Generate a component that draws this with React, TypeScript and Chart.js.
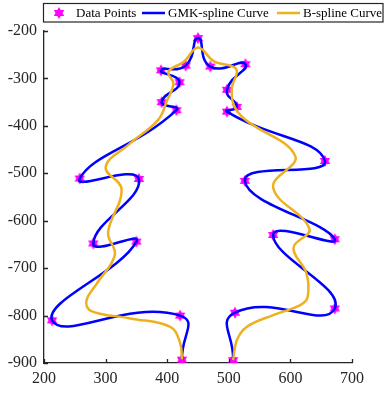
import React, { useEffect, useRef } from 'react';
import { Chart, registerables } from 'chart.js';

Chart.register(...registerables);

// Data points (control points), ordered from left trunk over the top to right trunk
const pointX = [424, 421, 213, 350, 280, 354, 258, 415, 391, 420, 390, 430, 450, 470, 527, 497, 513, 497, 656, 526, 672, 572, 672, 510, 507];
const pointY = [-893, -800, -810, -644, -648, -512, -511, -367, -350, -308, -283, -273, -215, -275, -270, -324, -360, -370, -474, -516, -639, -630, -785, -794, -894];

// B-spline curve samples
const bsplineX = [424, 421, 405, 340, 276, 269, 286, 315, 304, 326, 300, 338, 385, 400, 410, 402, 427, 450, 476, 512, 505, 508, 526, 608, 572, 631, 605, 626, 628, 616, 572, 529, 513, 507];
const bsplineY = [-893, -858, -824, -806, -790, -768, -732, -672, -625, -534, -487, -439, -388, -346, -311, -286, -265, -235, -264, -280, -321, -356, -386, -464, -530, -617, -657, -711, -761, -778, -799, -824, -852, -894];

const xTickValues = [200, 300, 400, 500, 600, 700];
const yTickValues = [-900, -800, -700, -600, -500, -400, -300, -200];

const legendLabels = ['Data Points', 'GMK-spline Curve', 'B-spline Curve'];

const FONT = "'Liberation Serif', 'Times New Roman', Times, serif";
const AXIS = '#262626';
const MAGENTA = '#FF00FF';
const BLUE = '#0000FF';
const ORANGE = '#EDB120';

function makeHexagram(r: number): HTMLCanvasElement {
  const c = document.createElement('canvas');
  const s = Math.ceil(r * 2 + 2);
  c.width = s;
  c.height = s;
  const ctx = c.getContext('2d')!;
  const cx = s / 2, cy = s / 2;
  ctx.fillStyle = MAGENTA;
  for (let t = 0; t < 2; t++) {
    ctx.beginPath();
    for (let k = 0; k < 3; k++) {
      const a = -Math.PI / 2 + t * Math.PI + (k * 2 * Math.PI) / 3;
      const px = cx + r * Math.cos(a);
      const py = cy + r * Math.sin(a);
      if (k === 0) ctx.moveTo(px, py); else ctx.lineTo(px, py);
    }
    ctx.closePath();
    ctx.fill();
  }
  return c;
}

export default function App() {
  const ref = useRef<HTMLCanvasElement | null>(null);

  useEffect(() => {
    if (!ref.current) return;
    const star = makeHexagram(6);
    const legendStar = makeHexagram(6);

    const decor = {
      id: 'decor',
      afterDraw(chart: any) {
        const ctx = chart.ctx;
        const xs = chart.scales.x;
        const ys = chart.scales.y;
        const area = chart.chartArea;
        ctx.save();
        ctx.strokeStyle = AXIS;
        ctx.lineWidth = 1.3;
        ctx.beginPath();
        xTickValues.forEach((v) => {
          const p = Math.round(xs.getPixelForValue(v)) + 0.5;
          ctx.moveTo(p, area.bottom);
          ctx.lineTo(p, area.bottom - 4);
        });
        yTickValues.forEach((v) => {
          const p = Math.round(ys.getPixelForValue(v)) + 0.5;
          ctx.moveTo(area.left, p);
          ctx.lineTo(area.left + 4, p);
        });
        ctx.stroke();

        // legend box
        ctx.fillStyle = '#ffffff';
        ctx.fillRect(43.5, 3.5, 339.5, 18.5);
        ctx.strokeStyle = AXIS;
        ctx.lineWidth = 1.2;
        ctx.strokeRect(43.5, 3.5, 339.5, 18.5);
        const cy = 13;
        ctx.drawImage(legendStar, 59 - legendStar.width / 2, cy - legendStar.height / 2);
        ctx.font = `13px ${FONT}`;
        ctx.fillStyle = '#000000';
        ctx.textBaseline = 'middle';
        ctx.textAlign = 'left';
        ctx.fillText(legendLabels[0], 76, cy + 0.5);
        ctx.lineWidth = 2.5;
        ctx.strokeStyle = BLUE;
        ctx.beginPath();
        ctx.moveTo(142, cy);
        ctx.lineTo(165, cy);
        ctx.stroke();
        ctx.fillText(legendLabels[1], 168, cy + 0.5);
        ctx.strokeStyle = ORANGE;
        ctx.beginPath();
        ctx.moveTo(277, cy);
        ctx.lineTo(300, cy);
        ctx.stroke();
        ctx.fillText(legendLabels[2], 303, cy + 0.5);
        ctx.restore();
      },
    };

    const chart = new Chart(ref.current, {
      type: 'scatter',
      data: {
        datasets: [
          {
            label: legendLabels[0],
            data: pointX.map((x, i) => ({ x, y: pointY[i] })),
            pointStyle: star as any,
            pointRadius: 6,
            showLine: false,
            order: 3,
          },
          {
            label: legendLabels[1],
            data: pointX.map((x, i) => ({ x, y: pointY[i] })),
            showLine: true,
            borderColor: BLUE,
            borderWidth: 2.5,
            pointRadius: 0,
            tension: 0.55,
            fill: false,
            order: 2,
          },
          {
            label: legendLabels[2],
            data: bsplineX.map((x, i) => ({ x, y: bsplineY[i] })),
            showLine: true,
            borderColor: ORANGE,
            borderWidth: 2.5,
            pointRadius: 0,
            tension: 0.4,
            fill: false,
            order: 1,
          },
        ],
      },
      options: {
        responsive: false,
        animation: false,
        layout: { padding: { top: 31, right: 33, left: 0, bottom: 0 } },
        plugins: {
          legend: { display: false },
          tooltip: { enabled: false },
        },
        scales: {
          x: {
            type: 'linear',
            min: 200,
            max: 700,
            afterBuildTicks: (s: any) => {
              s.ticks = xTickValues.map((v) => ({ value: v }));
            },
            afterFit: (s: any) => {
              s.height = 31;
            },
            grid: { display: false, drawTicks: false },
            border: { display: true, color: AXIS, width: 1.3 },
            ticks: {
              color: AXIS,
              font: { family: FONT, size: 16 },
              padding: 6,
              maxRotation: 0,
            },
          },
          y: {
            type: 'linear',
            min: -900,
            max: -200,
            afterBuildTicks: (s: any) => {
              s.ticks = yTickValues.map((v) => ({ value: v }));
            },
            afterFit: (s: any) => {
              s.width = 44;
            },
            grid: { display: false, drawTicks: false },
            border: { display: true, color: AXIS, width: 1.3 },
            ticks: {
              color: AXIS,
              font: { family: FONT, size: 16 },
              padding: 7,
            },
          },
        },
      },
      plugins: [decor],
    });
    return () => chart.destroy();
  }, []);

  return (
    <div style={{ position: 'absolute', left: 0, top: 0, width: 385, height: 394, background: '#fff' }}>
      <canvas ref={ref} width={385} height={394} style={{ display: 'block' }} />
    </div>
  );
}
